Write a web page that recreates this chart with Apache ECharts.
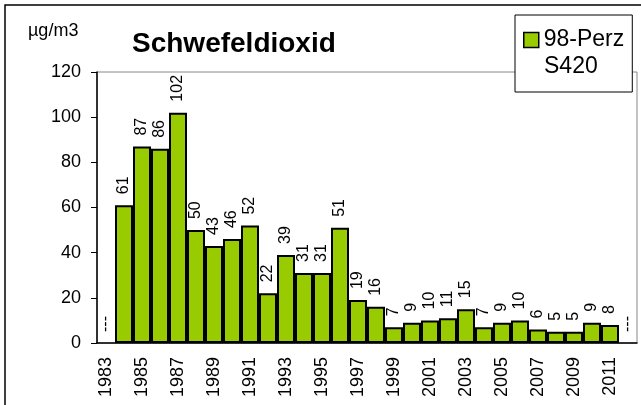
<!DOCTYPE html>
<html>
<head>
<meta charset="utf-8">
<script src="https://cdn.jsdelivr.net/npm/echarts@6/dist/echarts.min.js"></script>
<style>
  html, body { margin: 0; padding: 0; background: #fff; }
  #chart { width: 641px; height: 405px; }
</style>
</head>
<body>
<div id="chart"></div>
<script>
// Jahreswerte 98-Perzentil SO2, Station S420 (null = kein Messwert)
var years = [];
for (var y = 1983; y <= 2012; y++) years.push(String(y));
var values = [null, 61, 87, 86, 102, 50, 43, 46, 52, 22, 39, 31, 31, 51, 19,
  16, 7, 9, 10, 11, 15, 7, 9, 10, 6, 5, 5, 9, 8, null];
var yTicks = [0, 20, 40, 60, 80, 100, 120];
var seriesName = '98-Perz';
var stationName = 'S420';

var font = 'Liberation Sans, Arial, sans-serif';
var chart = echarts.init(document.getElementById('chart'));

var barData = values.map(function (v) {
  if (v === null) {
    return { value: 0, label: { formatter: '---' }, itemStyle: { borderWidth: 0 } };
  }
  return v;
});

var option = {
  animation: false,
  textStyle: { fontFamily: font },
  graphic: [
    { type: 'rect', shape: { x: 5, y: 5, width: 640, height: 410 },
      style: { fill: 'none', stroke: '#000', lineWidth: 1.5 }, z: -1 },
    { type: 'text', left: 28, top: 22,
      style: { text: 'µg/m3', font: '18px ' + font, fill: '#000' } },
    // zweite Legendenzeile (Stationsname)
    { type: 'text', left: 544, top: 55, z: 100,
      style: { text: stationName, font: '23px ' + font, fill: '#000' } }
  ],
  title: {
    text: 'Schwefeldioxid',
    left: 127, top: 25,
    textStyle: { fontFamily: font, fontSize: 28, fontWeight: 'bold', color: '#000' }
  },
  legend: {
    left: 515, top: 15,
    padding: [12, 8, 39, 8],
    backgroundColor: '#fff',
    borderColor: '#000', borderWidth: 1,
    icon: 'rect',
    itemWidth: 15, itemHeight: 15,
    itemStyle: { borderColor: '#000', borderWidth: 1.5 },
    textStyle: { fontFamily: font, fontSize: 23, color: '#000', lineHeight: 26 },
    data: [seriesName]
  },
  grid: { left: 97, right: 4, top: 72, bottom: 62, show: true, borderColor: '#888', borderWidth: 1 },
  xAxis: {
    type: 'category',
    data: years,
    boundaryGap: true,
    axisLine: { lineStyle: { color: '#000', width: 1.5 } },
    axisTick: { interval: 0, length: 6, lineStyle: { color: '#000' } },
    axisLabel: { interval: 1, rotate: 90, fontSize: 18, color: '#000', margin: 14 }
  },
  yAxis: {
    type: 'value',
    min: yTicks[0], max: yTicks[yTicks.length - 1], interval: 20,
    axisLine: { show: true, lineStyle: { color: '#000', width: 1.5 } },
    axisTick: { show: true, length: 6, lineStyle: { color: '#000' } },
    axisLabel: { fontSize: 18, color: '#000', margin: 16 },
    splitLine: { show: false }
  },
  series: [{
    name: seriesName,
    type: 'bar',
    data: barData,
    barCategoryGap: '0%',
    itemStyle: { color: '#99CC00', borderColor: '#000', borderWidth: 2 },
    label: {
      show: true,
      position: 'top',
      rotate: 90,
      align: 'left',
      verticalAlign: 'middle',
      distance: 11,
      fontSize: 16,
      color: '#000'
    }
  }]
};
chart.setOption(option);
</script>
</body>
</html>
